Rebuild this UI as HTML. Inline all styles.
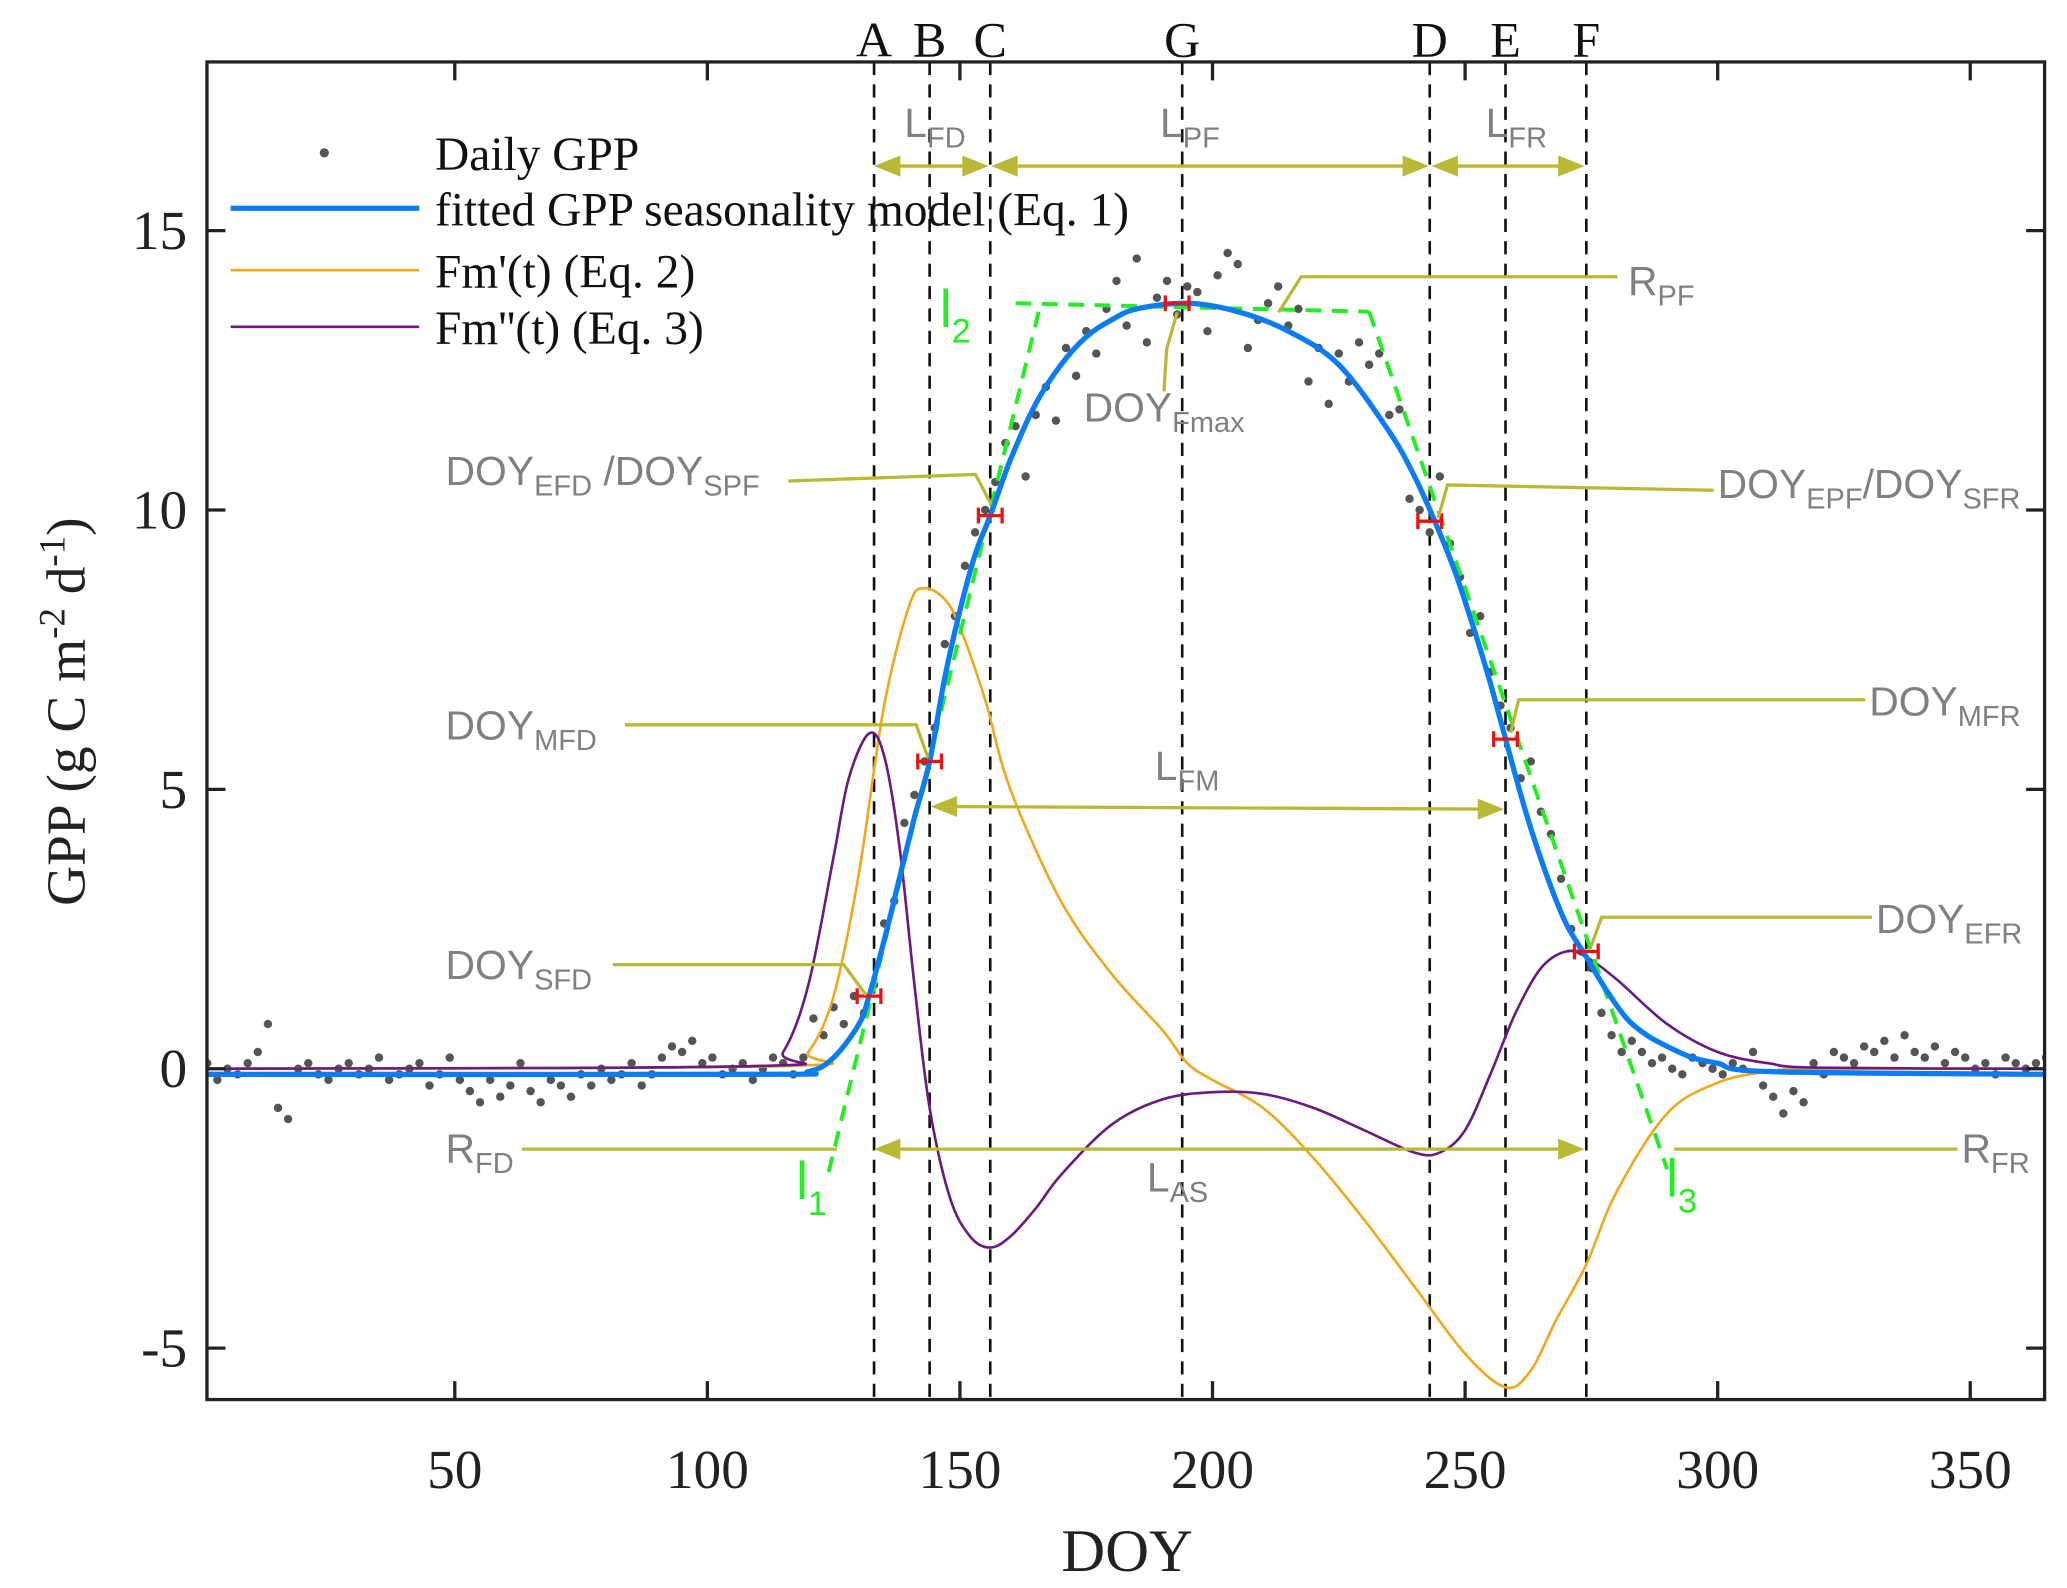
<!DOCTYPE html>
<html><head><meta charset="utf-8"><style>
html,body{margin:0;padding:0;background:#fff;}
svg{display:block;}
.tk{font-family:"Liberation Serif",serif;font-size:42px;fill:#222;}
.pl{font-family:"Liberation Serif",serif;font-size:38px;fill:#111;}
.gt{font-family:"Liberation Sans",sans-serif;font-size:31px;fill:#808080;}
.gs{font-family:"Liberation Sans",sans-serif;font-size:22px;fill:#808080;}
.lg{font-family:"Liberation Serif",serif;font-size:36px;fill:#111;}
.ol{stroke:#b9b935;stroke-width:2.5;fill:none;}
</style></head><body>
<svg id="chart" width="2067" height="1588" viewBox="0 0 1568 1205" preserveAspectRatio="none" xmlns="http://www.w3.org/2000/svg">
<defs>
<clipPath id="pc"><rect x="157" y="47" width="1394" height="1015"/></clipPath>
</defs>
<g id="plot" clip-path="url(#pc)"></g>
<rect x="157" y="47" width="1394" height="1015" fill="none" stroke="#222" stroke-width="2.5"/>
<g id="axes"></g>
<text x="855" y="1192" text-anchor="middle" style="font-family:'Liberation Serif',serif;font-size:46px;fill:#222">DOY</text>
<text transform="translate(64,540) rotate(-90)" text-anchor="middle" style="font-family:'Liberation Serif',serif;font-size:42px;fill:#222">GPP (g C m<tspan dy="-15" font-size="28">-2</tspan><tspan dy="15"> d</tspan><tspan dy="-15" font-size="28">-1</tspan><tspan dy="15">)</tspan></text>
<g>
<circle cx="246" cy="116" r="3.5" fill="#555"/><text class="lg" x="330" y="129">Daily GPP</text>
<line x1="175" y1="158" x2="318" y2="158" stroke="#0a7cf5" stroke-width="4"/><text class="lg" x="330" y="171">fitted GPP seasonality model (Eq. 1)</text>
<line x1="175" y1="205" x2="318" y2="205" stroke="#f0a81c" stroke-width="2"/><text class="lg" x="330" y="218">Fm'(t) (Eq. 2)</text>
<line x1="175" y1="248" x2="318" y2="248" stroke="#6a1a80" stroke-width="2"/><text class="lg" x="330" y="261">Fm''(t) (Eq. 3)</text>
</g>
<g>
<g fill="#b9b935">
<line class="ol" x1="670" y1="126" x2="745" y2="126"/><polygon points="663,126 683,118 683,134"/><polygon points="750,126 730,118 730,134"/>
<line class="ol" x1="760" y1="126" x2="1075" y2="126"/><polygon points="752,126 772,118 772,134"/><polygon points="1084,126 1064,118 1064,134"/>
<line class="ol" x1="1092" y1="126" x2="1195" y2="126"/><polygon points="1086,126 1106,118 1106,134"/><polygon points="1202,126 1182,118 1182,134"/>
<line class="ol" x1="714" y1="612" x2="1134" y2="614"/><polygon points="706,612 726,604 726,620"/><polygon points="1141,614 1121,606 1121,622"/>
<line class="ol" x1="670" y1="872" x2="1195" y2="872"/><polygon points="663,872 683,864 683,880"/><polygon points="1202,872 1182,864 1182,880"/>
</g>
<path class="ol" d="M970,237 L987,210 L1227,210"/>
<path class="ol" d="M893,237 L885,265 L883,297"/>
<path class="ol" d="M598,365 L740,360 L752,383"/>
<path class="ol" d="M1091,393 L1098,368 L1300,372"/>
<path class="ol" d="M474,550 L695,550 L704,575"/>
<path class="ol" d="M1146,556 L1152,531 L1415,531"/>
<path class="ol" d="M465,732 L640,732 L657,755"/>
<path class="ol" d="M1207,718 L1215,696 L1420,696"/>
<path class="ol" d="M396,872 L635,872"/>
<path class="ol" d="M1270,872 L1485,872"/>
<text class="gt" x="686" y="104">L<tspan class="gs" dy="8">FD</tspan></text>
<text class="gt" x="880" y="104">L<tspan class="gs" dy="8">PF</tspan></text>
<text class="gt" x="1127" y="104">L<tspan class="gs" dy="8">FR</tspan></text>
<text class="gt" x="876" y="592">L<tspan class="gs" dy="8">FM</tspan></text>
<text class="gt" x="870" y="904">L<tspan class="gs" dy="8">AS</tspan></text>
<text class="gt" x="1235" y="224">R<tspan class="gs" dy="8">PF</tspan></text>
<text class="gt" x="822" y="320">DOY<tspan class="gs" dy="8">Fmax</tspan></text>
<text class="gt" x="338" y="368">DOY<tspan class="gs" dy="8">EFD</tspan><tspan dy="-8"> /DOY</tspan><tspan class="gs" dy="8">SPF</tspan></text>
<text class="gt" x="1303" y="378">DOY<tspan class="gs" dy="8">EPF</tspan><tspan dy="-8">/DOY</tspan><tspan class="gs" dy="8">SFR</tspan></text>
<text class="gt" x="338" y="561">DOY<tspan class="gs" dy="8">MFD</tspan></text>
<text class="gt" x="1418" y="543">DOY<tspan class="gs" dy="8">MFR</tspan></text>
<text class="gt" x="338" y="743">DOY<tspan class="gs" dy="8">SFD</tspan></text>
<text class="gt" x="1423" y="708">DOY<tspan class="gs" dy="8">EFR</tspan></text>
<text class="gt" x="338" y="882">R<tspan class="gs" dy="8">FD</tspan></text>
<text class="gt" x="1488" y="882">R<tspan class="gs" dy="8">FR</tspan></text>
<text x="604" y="910" style="font-family:'Liberation Sans',sans-serif;font-size:40px;fill:#22ee22">l<tspan dy="12" font-size="26">1</tspan></text>
<text x="713" y="248" style="font-family:'Liberation Sans',sans-serif;font-size:40px;fill:#22ee22">l<tspan dy="12" font-size="26">2</tspan></text>
<text x="1264" y="908" style="font-family:'Liberation Sans',sans-serif;font-size:40px;fill:#22ee22">l<tspan dy="12" font-size="26">3</tspan></text>
</g>
</svg>
<script>
const dailyGPP=[0.1,-0.2,0.0,-0.1,0.1,0.3,0.8,-0.7,-0.9,0.0,0.1,-0.1,-0.2,0.0,0.1,
-0.1,0.0,0.2,-0.2,-0.1,0.0,0.1,-0.3,-0.1,0.2,-0.2,-0.4,-0.6,-0.2,-0.5,
-0.3,0.1,-0.4,-0.6,-0.2,-0.3,-0.5,-0.1,-0.3,0.0,-0.2,-0.1,0.1,-0.3,-0.1,
0.2,0.4,0.3,0.5,0.1,0.2,-0.1,0.0,0.1,-0.2,0.0,0.2,0.1,-0.1,0.2,
0.9,0.6,1.1,0.8,1.3,1.0,1.5,2.6,3.0,4.4,4.9,5.5,6.1,7.6,8.1,
9.0,9.6,10.0,10.5,11.2,11.5,10.6,11.7,12.2,11.6,12.9,12.4,13.2,12.8,13.6,
14.1,13.3,14.5,13.0,13.8,14.1,13.5,14.0,13.9,13.2,14.2,14.6,14.4,12.9,13.4,
13.7,14.0,13.3,13.6,12.3,12.9,11.9,12.8,12.3,13.0,12.6,12.8,11.7,11.8,10.2,
10.0,9.6,10.6,9.4,8.8,7.8,8.1,7.1,6.5,6.1,5.2,5.5,4.6,4.2,3.4,
2.5,2.1,1.8,1.0,0.6,0.3,0.5,0.3,0.1,0.2,0.0,-0.1,0.2,0.1,0.0,
-0.1,0.1,0.0,0.3,-0.3,-0.5,-0.8,-0.4,-0.6,0.1,-0.1,0.3,0.2,0.1,0.4,
0.3,0.5,0.2,0.6,0.3,0.2,0.4,0.1,0.3,0.2,0.0,0.1,-0.1,0.2,0.1,
0.0,0.1,0.2];
const dailyDOYStart=1, dailyDOYStep=2;
const fitDOY=[1,110,120,125,130,132,135,138,141,144,147,150,153,156,160,165,170,175,180,185,195,205,215,225,235,240,244,248,252,255,258,262,266,270,274,278,282,286,290,295,300,310,365];
const fitGPP=[-0.1,-0.1,-0.05,0.2,0.8,1.3,2.3,3.4,4.5,5.5,7.0,8.2,9.2,9.9,10.9,11.9,12.6,13.1,13.4,13.6,13.7,13.55,13.2,12.6,11.4,10.6,9.8,8.9,7.8,6.9,5.9,4.6,3.5,2.6,2.0,1.4,0.9,0.6,0.4,0.2,0.1,-0.05,-0.1];
const d1DOY=[1,115,120,125,130,135,140,143,147,150,155,160,170,180,190,195,200,210,220,230,240,250,258,263,268,274,280,290,300,310,320,365];
const d1Val=[0,0.05,0.3,1.3,3.5,6.5,8.3,8.6,8.4,7.9,6.6,5.0,3.0,1.7,0.7,0.1,-0.2,-0.7,-1.6,-2.7,-3.9,-5.1,-5.7,-5.4,-4.5,-3.5,-2.2,-0.8,-0.25,-0.05,0,0];
const d2DOY=[1,110,115,120,125,128,132,135,138,141,144,148,152,156,160,165,170,180,190,200,210,220,230,240,245,250,255,260,265,270,274,280,290,300,310,320,365];
const d2Val=[0,0.05,0.3,1.5,3.8,5.2,6.0,5.6,4.0,1.5,-0.7,-2.3,-3.0,-3.2,-3.0,-2.5,-1.9,-1.0,-0.55,-0.42,-0.45,-0.7,-1.1,-1.5,-1.5,-1.1,-0.1,1.0,1.8,2.1,2.0,1.6,0.8,0.3,0.1,0.02,0];
const phenoNames=["A","B","C","G","D","E","F"];
const phenoDOY=[133,144,156,194,243,258,274];
const markerDOY=[132,144,156,193,243,258,274];
const markerGPP=[1.3,5.5,9.9,13.7,9.8,5.9,2.1];
const xTicks=[50,100,150,200,250,300,350];
const xTickLabels=["50","100","150","200","250","300","350"];
const yTicks=[-5,0,5,10,15];
const yTickLabels=["-5","0","5","10","15"];
const lineDOY=[[124,166],[161,231],[231,290]];
const lineGPP=[[-1.85,13.7],[13.7,13.55],[13.55,-1.8]];

const NS="http://www.w3.org/2000/svg";
const X=d=>153.4+d*3.832, Y=v=>811-v*42.4;
function mk(tag,attrs,parent){const e=document.createElementNS(NS,tag);for(const k in attrs)e.setAttribute(k,attrs[k]);parent.appendChild(e);return e;}
const plot=document.getElementById('plot'), axes=document.getElementById('axes');
function pathOf(xs,ys){return xs.map((d,i)=>(i?'L':'M')+X(d).toFixed(1)+','+Y(ys[i]).toFixed(1)).join(' ');}
function smoothOf(xs,ys){
 const P=xs.map((d,i)=>[X(d),Y(ys[i])]);
 let s='M'+P[0][0].toFixed(1)+','+P[0][1].toFixed(1);
 for(let i=0;i<P.length-1;i++){
  const p0=P[Math.max(0,i-1)],p1=P[i],p2=P[i+1],p3=P[Math.min(P.length-1,i+2)];
  const c1=[p1[0]+(p2[0]-p0[0])/6,p1[1]+(p2[1]-p0[1])/6];
  const c2=[p2[0]-(p3[0]-p1[0])/6,p2[1]-(p3[1]-p1[1])/6];
  s+=' C'+c1[0].toFixed(1)+','+c1[1].toFixed(1)+' '+c2[0].toFixed(1)+','+c2[1].toFixed(1)+' '+p2[0].toFixed(1)+','+p2[1].toFixed(1);
 }
 return s;
}
phenoDOY.forEach((d,i)=>{
 const l=mk('line',{x1:X(d),x2:X(d),y1:47,y2:1062,stroke:'#111','stroke-width':2,'stroke-dasharray':'10,7'},plot);
 
 
 const t=mk('text',{x:X(d),y:43,'text-anchor':'middle',class:'pl'},axes);
 t.textContent=phenoNames[i];
 
 
});
dailyGPP.forEach((v,i)=>{
 const c=mk('circle',{cx:X(dailyDOYStart+i*dailyDOYStep),cy:Y(v),r:3.2,fill:'#555'},plot);
 
 
});
let p=mk('path',{d:smoothOf(d1DOY,d1Val),stroke:'#f0a81c','stroke-width':2,fill:'none'},plot);


p=mk('path',{d:smoothOf(d2DOY,d2Val),stroke:'#6a1a80','stroke-width':2,fill:'none'},plot);


lineDOY.forEach((ds,i)=>{
 const l=mk('path',{d:pathOf(ds,lineGPP[i]),stroke:'#22ee22','stroke-width':3,'stroke-dasharray':'12,8',fill:'none'},plot);
 
 
});
p=mk('path',{d:smoothOf(fitDOY,fitGPP),stroke:'#0a7cf5','stroke-width':4,fill:'none'},plot);


markerDOY.forEach((d,i)=>{
 const x=X(d),y=Y(markerGPP[i]);
 const g=mk('path',{d:'M'+(x-9)+','+y+' L'+(x+9)+','+y+' M'+(x-9)+','+(y-6)+' L'+(x-9)+','+(y+6)+' M'+(x+9)+','+(y-6)+' L'+(x+9)+','+(y+6),stroke:'#ee1111','stroke-width':2.5,fill:'none'},plot);
 
 
});
xTicks.forEach((d,i)=>{
 const xx=X(d);
 const l=mk('path',{d:'M'+xx+',1062 L'+xx+',1048 M'+xx+',47 L'+xx+',61',stroke:'#222','stroke-width':2.5},axes);
 
 
 const t=mk('text',{x:xx,y:1129,'text-anchor':'middle',class:'tk'},axes);
 t.textContent=xTickLabels[i];
 
 
});
yTicks.forEach((v,i)=>{
 const yy=Y(v);
 const l=mk('path',{d:'M157,'+yy+' L171,'+yy+' M1551,'+yy+' L1537,'+yy,stroke:'#222','stroke-width':2.5},axes);
 
 
 const t=mk('text',{x:142,y:yy+14,'text-anchor':'end',class:'tk'},axes);
 t.textContent=yTickLabels[i];
 
 
});
</script>
</body></html>
